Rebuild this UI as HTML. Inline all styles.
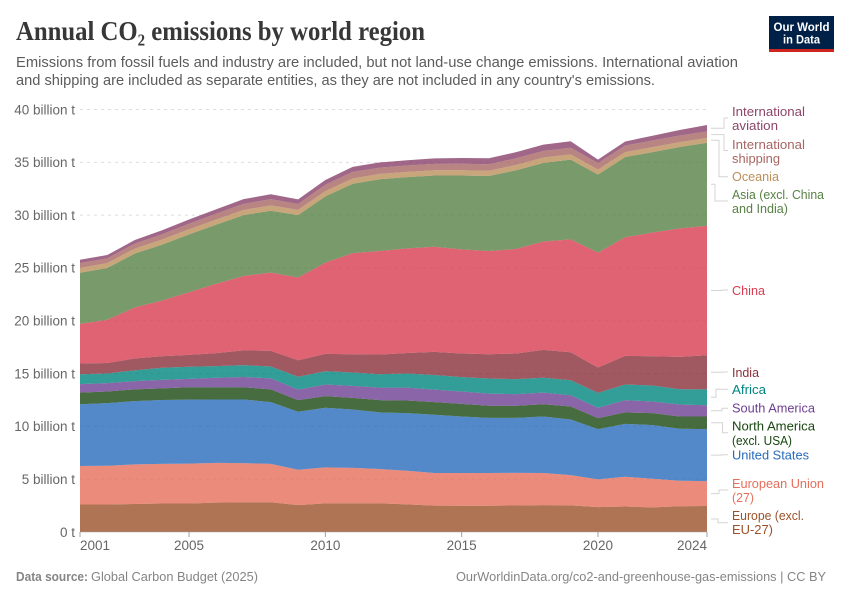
<!DOCTYPE html>
<html lang="en">
<head>
<meta charset="utf-8">
<title>Annual CO₂ emissions by world region</title>
<style>
html,body{margin:0;padding:0;background:#fff;}
svg{display:block;font-family:"Liberation Sans",sans-serif;}
</style>
</head>
<body>
<svg id="chart" width="850" height="600" viewBox="0 0 850 600" xmlns="http://www.w3.org/2000/svg">
  <rect x="0" y="0" width="850" height="600" fill="#ffffff"/>
  <text x="16" y="40" font-family="'Liberation Serif',serif" font-weight="700" font-size="27" fill="#373737" textLength="409" lengthAdjust="spacingAndGlyphs">Annual CO₂ emissions by world region</text>
  <text x="16" y="67" font-size="14.5" fill="#5b5b5b" textLength="722" lengthAdjust="spacingAndGlyphs">Emissions from fossil fuels and industry are included, but not land-use change emissions. International aviation</text>
  <text x="16" y="85" font-size="14.5" fill="#5b5b5b" textLength="639" lengthAdjust="spacingAndGlyphs">and shipping are included as separate entities, as they are not included in any country's emissions.</text>

  <g>
    <rect x="769" y="16" width="65" height="36" fill="#002147"/>
    <rect x="769" y="49" width="65" height="3" fill="#ce261e"/>
    <text x="801.5" y="31" text-anchor="middle" font-size="12" font-weight="700" fill="#ffffff" textLength="56" lengthAdjust="spacingAndGlyphs">Our World</text>
    <text x="801.5" y="43.5" text-anchor="middle" font-size="12" font-weight="700" fill="#ffffff" textLength="37" lengthAdjust="spacingAndGlyphs">in Data</text>
  </g>

  <g id="grid"></g>
  <g id="areas"></g>
  <g id="axes"></g>
  <g id="connectors"></g>

  <g font-size="13">
    <text fill="#8c4569"><tspan x="732" y="116" textLength="73" lengthAdjust="spacingAndGlyphs">International</tspan><tspan x="732" y="130" textLength="46" lengthAdjust="spacingAndGlyphs">aviation</tspan></text>
    <text fill="#a76663"><tspan x="732" y="149" textLength="73" lengthAdjust="spacingAndGlyphs">International</tspan><tspan x="732" y="163" textLength="48" lengthAdjust="spacingAndGlyphs">shipping</tspan></text>
    <text fill="#bc8e5a" x="732" y="181" textLength="47" lengthAdjust="spacingAndGlyphs">Oceania</text>
    <text fill="#578145"><tspan x="732" y="199" textLength="92" lengthAdjust="spacingAndGlyphs">Asia (excl. China</tspan><tspan x="732" y="213" textLength="56" lengthAdjust="spacingAndGlyphs">and India)</tspan></text>
    <text fill="#d73c50" x="732" y="295" textLength="33" lengthAdjust="spacingAndGlyphs">China</text>
    <text fill="#883039" x="732" y="377" textLength="27" lengthAdjust="spacingAndGlyphs">India</text>
    <text fill="#00847e" x="732" y="394" textLength="34" lengthAdjust="spacingAndGlyphs">Africa</text>
    <text fill="#6d3e91" x="732" y="412.5" textLength="83" lengthAdjust="spacingAndGlyphs">South America</text>
    <text fill="#18470f"><tspan x="732" y="430.5" textLength="83" lengthAdjust="spacingAndGlyphs">North America</tspan><tspan x="732" y="445" textLength="60" lengthAdjust="spacingAndGlyphs">(excl. USA)</tspan></text>
    <text fill="#286bbb" x="732" y="459.5" textLength="77" lengthAdjust="spacingAndGlyphs">United States</text>
    <text fill="#e56e5a"><tspan x="732" y="488" textLength="92" lengthAdjust="spacingAndGlyphs">European Union</tspan><tspan x="732" y="502" textLength="22" lengthAdjust="spacingAndGlyphs">(27)</tspan></text>
    <text fill="#9a5129"><tspan x="732" y="520" textLength="72" lengthAdjust="spacingAndGlyphs">Europe (excl.</tspan><tspan x="732" y="534" textLength="41" lengthAdjust="spacingAndGlyphs">EU-27)</tspan></text>
  </g>

  <text x="16" y="581" font-size="13" fill="#858585"><tspan font-weight="700" textLength="72" lengthAdjust="spacingAndGlyphs">Data source:</tspan><tspan x="91" textLength="167" lengthAdjust="spacingAndGlyphs">Global Carbon Budget (2025)</tspan></text>
  <text x="456" y="581" font-size="13" fill="#858585" textLength="370" lengthAdjust="spacingAndGlyphs">OurWorldinData.org/co2-and-greenhouse-gas-emissions | CC BY</text>
</svg>

<script>
const years = [2001,2002,2003,2004,2005,2006,2007,2008,2009,2010,2011,2012,2013,2014,2015,2016,2017,2018,2019,2020,2021,2022,2023,2024];
const europe = [2.6,2.6,2.65,2.7,2.7,2.78,2.82,2.82,2.55,2.71,2.72,2.71,2.62,2.5,2.49,2.49,2.51,2.55,2.52,2.36,2.41,2.33,2.44,2.46];
const europeanUnion = [3.65,3.67,3.75,3.75,3.77,3.77,3.7,3.63,3.34,3.41,3.35,3.25,3.18,3.08,3.09,3.09,3.09,3.03,2.87,2.62,2.82,2.71,2.41,2.36];
const unitedStates = [5.85,5.93,5.99,6.05,6.06,6.0,6.03,5.85,5.49,5.64,5.53,5.36,5.45,5.52,5.36,5.23,5.21,5.36,5.26,4.76,5.01,5.08,4.92,4.92];
const northAmerica = [1.1,1.1,1.11,1.1,1.17,1.15,1.15,1.2,1.1,1.1,1.1,1.16,1.2,1.2,1.19,1.14,1.14,1.16,1.23,1.04,1.08,1.13,1.17,1.2];
const southAmerica = [0.8,0.8,0.78,0.8,0.8,0.9,0.98,1.05,1.0,1.1,1.13,1.19,1.22,1.18,1.17,1.15,1.1,1.1,1.07,0.98,1.16,1.1,1.13,1.06];
const africa = [0.94,0.9,1.02,1.15,1.15,1.1,1.12,1.12,1.22,1.26,1.27,1.27,1.33,1.39,1.36,1.43,1.42,1.4,1.42,1.41,1.48,1.52,1.45,1.5];
const india = [1.01,1.0,1.12,1.09,1.12,1.23,1.4,1.48,1.56,1.64,1.73,1.86,1.95,2.18,2.24,2.3,2.43,2.64,2.65,2.4,2.71,2.77,3.06,3.23];
const china = [3.75,4.1,4.83,5.26,5.93,6.57,7.04,7.41,7.84,8.64,9.57,9.8,9.9,9.95,9.86,9.77,9.9,10.26,10.68,10.88,11.23,11.71,12.17,12.27];
const asia = [4.85,4.9,5.1,5.3,5.48,5.6,5.76,5.86,5.9,6.27,6.57,6.8,6.75,6.75,6.99,7.1,7.45,7.45,7.55,7.4,7.6,7.62,7.7,7.85];
const oceania = [0.46,0.46,0.47,0.48,0.48,0.49,0.49,0.5,0.5,0.5,0.5,0.5,0.5,0.5,0.5,0.5,0.5,0.5,0.5,0.47,0.47,0.47,0.46,0.46];
const shipping = [0.45,0.45,0.47,0.5,0.52,0.55,0.58,0.6,0.55,0.6,0.62,0.6,0.6,0.6,0.62,0.62,0.63,0.63,0.63,0.6,0.62,0.63,0.63,0.62];
const aviation = [0.32,0.32,0.34,0.38,0.4,0.42,0.44,0.46,0.44,0.46,0.48,0.49,0.5,0.52,0.54,0.56,0.58,0.6,0.62,0.34,0.38,0.45,0.52,0.6];

const yTicks = [0,5,10,15,20,25,30,35,40];
const yTickLabels = ["0 t","5 billion t","10 billion t","15 billion t","20 billion t","25 billion t","30 billion t","35 billion t","40 billion t"];
const xTicks = [2001,2005,2010,2015,2020,2024];

const stackOrder = [europe,europeanUnion,unitedStates,northAmerica,southAmerica,africa,india,china,asia,oceania,shipping,aviation];
const seriesNames = ["europe","european-union","united-states","north-america","south-america","africa","india","china","asia","oceania","international-shipping","international-aviation"];
const seriesColors = ["#9a5129","#e56e5a","#286bbb","#18470f","#6d3e91","#00847e","#883039","#d73c50","#578145","#bc8e5a","#a76663","#88416b"];

/* Connector routing: elbow x and label-side y for each series' leader line */
const elbowX = [718,719,722,722.5,722,716,722,722,715,719,724,724];
const labelSideY = [522.7,490,454.7,432.7,408.3,389.3,372,290,201,176.7,150.5,118];

const NS = "http://www.w3.org/2000/svg";
const plot = {left:80,right:707,top:109.5,bottom:532};
const xScale = function(year){
  return plot.left + (year - years[0]) / (years[years.length-1] - years[0]) * (plot.right - plot.left);
};
const yScale = function(value){
  return plot.bottom - value / 40 * (plot.bottom - plot.top);
};
function make(tag, parent){
  const el = document.createElementNS(NS, tag);
  parent.appendChild(el);
  return el;
}

const gridGroup = document.getElementById("grid");
yTicks.forEach(function(tick){
  if (tick === 0) return;
  const line = make("line", gridGroup);
  
  
  line.setAttribute("x1", plot.left);
  line.setAttribute("x2", plot.right);
  line.setAttribute("y1", yScale(tick));
  line.setAttribute("y2", yScale(tick));
  line.setAttribute("stroke", "#dddddd");
  line.setAttribute("stroke-dasharray", "3,4");
});

const areaGroup = document.getElementById("areas");
let lower = years.map(function(){ return 0; });
const bandMids = [];
stackOrder.forEach(function(values, s){
  const upper = values.map(function(v, i){ return lower[i] + v; });
  let d = "";
  years.forEach(function(y, i){
    d += (i ? "L" : "M") + xScale(y).toFixed(2) + " " + yScale(upper[i]).toFixed(2);
  });
  for (let i = years.length - 1; i >= 0; i--) {
    d += "L" + xScale(years[i]).toFixed(2) + " " + yScale(lower[i]).toFixed(2);
  }
  d += "Z";
  const area = make("path", areaGroup);
  
  
  area.setAttribute("d", d);
  area.setAttribute("fill", seriesColors[s]);
  area.setAttribute("fill-opacity", "0.8");
  const last = years.length - 1;
  bandMids.push((lower[last] + upper[last]) / 2);
  lower = upper;
});

const axesGroup = document.getElementById("axes");
yTicks.forEach(function(tick, i){
  const label = make("text", axesGroup);
  
  
  label.setAttribute("x", 75);
  label.setAttribute("y", yScale(tick) + 4.8);
  label.setAttribute("text-anchor", "end");
  label.setAttribute("font-size", "13.5");
  label.setAttribute("fill", "#666666");
  label.textContent = yTickLabels[i];
});
const baseline = make("line", axesGroup);


baseline.setAttribute("x1", plot.left);
baseline.setAttribute("x2", plot.right);
baseline.setAttribute("y1", plot.bottom);
baseline.setAttribute("y2", plot.bottom);
baseline.setAttribute("stroke", "#a1a1a1");
baseline.setAttribute("stroke-width", "0.6");
xTicks.forEach(function(year, i){
  const tick = make("line", axesGroup);
  
  
  tick.setAttribute("x1", xScale(year));
  tick.setAttribute("x2", xScale(year));
  tick.setAttribute("y1", plot.bottom);
  tick.setAttribute("y2", plot.bottom + 5);
  tick.setAttribute("stroke", "#a1a1a1");
  const label = make("text", axesGroup);
  
  
  label.setAttribute("x", xScale(year));
  label.setAttribute("y", 550);
  label.setAttribute("text-anchor", i === 0 ? "start" : (i === xTicks.length - 1 ? "end" : "middle"));
  label.setAttribute("font-size", "13.5");
  label.setAttribute("fill", "#666666");
  label.textContent = year;
});

const connectorGroup = document.getElementById("connectors");
bandMids.forEach(function(mid, s){
  const startY = yScale(mid);
  const line = make("path", connectorGroup);
  
  
  line.setAttribute("d", "M711 " + startY.toFixed(1) + "H" + elbowX[s] + "V" + labelSideY[s] + "H728");
  line.setAttribute("fill", "none");
  line.setAttribute("stroke", "#d4d4d4");
  line.setAttribute("stroke-width", "1");
});
</script>
</body>
</html>
